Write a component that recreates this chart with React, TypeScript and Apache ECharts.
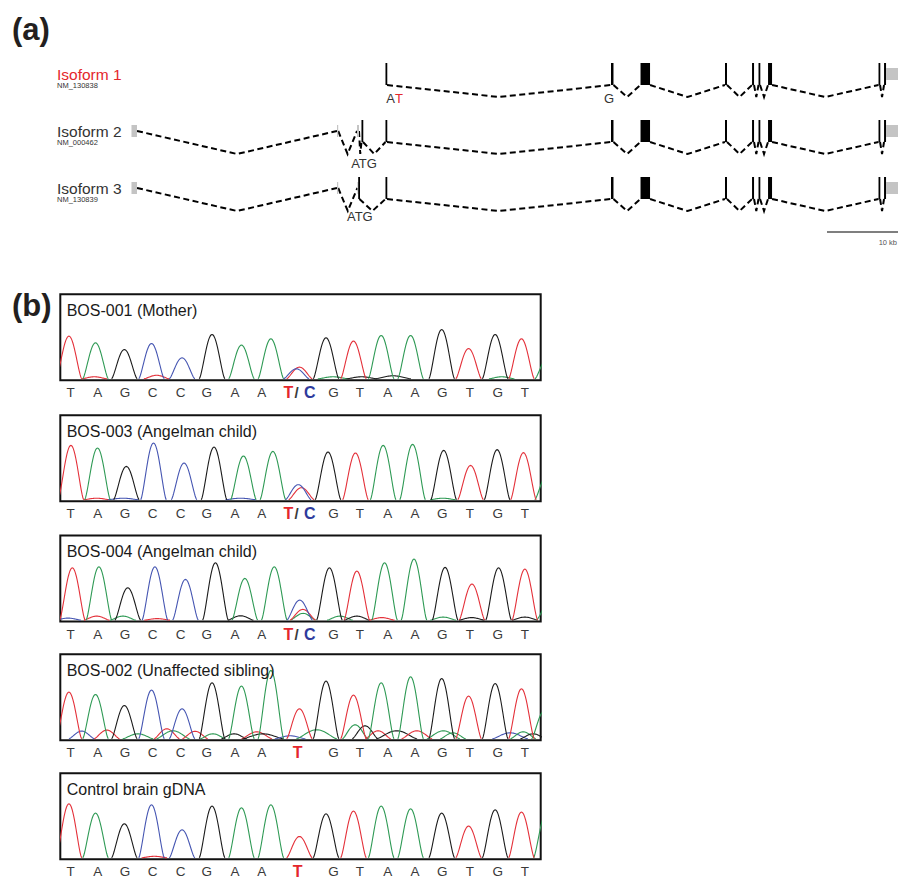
import { useEffect, useRef } from 'react';
import * as echarts from 'echarts';

// ---------- (a) gene structure, positions in kb from the 5' end ----------
const ISOFORMS = ['Isoform 1', 'Isoform 2', 'Isoform 3'];
const REFSEQ = ['NM_130838', 'NM_000462', 'NM_130839'];
// [start kb, end kb, kind] kind: 1 coding, 0 UTR
const SHARED_EXONS = [
  [31.81, 32.0, 1], [60.0, 60.31, 1], [63.69, 64.88, 1], [74.25, 74.5, 1],
  [77.63, 77.88, 1], [78.44, 78.63, 1], [79.63, 80.13, 1], [93.44, 93.63, 1],
  [94.13, 94.38, 1], [94.38, 96.9, 0],
];
const ISO1_EXONS = [...SHARED_EXONS];
const ISO2_EXONS = [[0.06, 0.75, 0], [25.75, 25.9, 0], [28.25, 28.5, 0], [28.81, 29.0, 1], ...SHARED_EXONS];
const ISO3_EXONS = [[0.06, 0.75, 0], [25.75, 25.9, 0], [28.3, 28.4, 0], [28.4, 28.55, 1], ...SHARED_EXONS];
// [row, kb, text, red]
const START_CODON = [[0, 32.45, 'A', 0], [0, 33.5, 'T', 1], [0, 59.75, 'G', 0], [1, 29.13, 'ATG', 0], [2, 28.6, 'ATG', 0]];

// ---------- (b) chromatograms ----------
const SAMPLES = ['BOS-001 (Mother)', 'BOS-003 (Angelman child)', 'BOS-004 (Angelman child)', 'BOS-002 (Unaffected sibling)', 'Control brain gDNA'];
const HETEROZYGOUS = [true, true, true, false, false];
const BASES = ['T', 'A', 'G', 'C', 'C', 'G', 'A', 'A', 'T', 'G', 'T', 'A', 'A', 'G', 'T', 'G', 'T'];
const PEAK_POS = [-0.02, 0.92, 1.94, 2.9, 3.98, 5.04, 6.08, 7.12, 8.13, 9.07, 10.04, 11.02, 12.06, 13.16, 14.11, 15.05, 15.98];
const LABEL_POS = [0.04, 1.0, 1.96, 2.94, 3.93, 4.85, 5.85, 6.8, 8.07, 9.33, 10.27, 11.25, 12.22, 13.18, 14.16, 15.14, 16.1];
const HET_LABEL_POS = [7.74, 8.03, 8.5]; // T / C
const PANEL_SHIFT = [0, 0.07, 0.12, 0, 0];

const MOTHER_H = [42.7, 36, 29.3, 35.3, 21, 44.3, 33.7, 40, 11.7, 41, 37.7, 43.3, 43.3, 49.3, 30.3, 44.3, 40];
const BOS003_H = [54.3, 51.7, 33.3, 56.7, 36.7, 52.7, 43.7, 48.3, 12, 47.7, 46.7, 54.3, 55.3, 49.3, 34.3, 50, 47];
const BOS004_H = [52.3, 53.3, 32.3, 53.3, 40.7, 57.3, 41.7, 53.3, 10.7, 52.3, 49, 57.3, 61, 52.7, 36, 52.3, 51];
const BOS002_H = [46.7, 44.3, 33.3, 48.7, 30, 56, 52.7, 68.3, 30, 57.7, 43.7, 56, 62, 60.3, 42.7, 55.3, 50];
const CONTROL_H = [54, 44.7, 34, 53, 28, 51.7, 50, 53, 21.3, 44, 46.7, 51.7, 49, 44.7, 31.7, 48, 45.7];
const HEIGHTS = [MOTHER_H, BOS003_H, BOS004_H, BOS002_H, CONTROL_H];
const C_ALLELE_H = [10, 15, 20, 0, 0];

// minor peaks: [pos, height, base, width factor]
const MINOR_1 = [[0.88, 2, 'T', 1], [3.08, 3.5, 'T', 1], [9.32, 2, 'A', 1.2], [10.33, 2, 'G', 1.2], [11.44, 3, 'G', 1.4], [15.28, 2, 'A', 1], [16.91, 21, 'A', 1]];
const MINOR_2 = [[0.96, 1.5, 'T', 1], [1.9, 1.5, 'C', 1.2], [6.05, 1.5, 'C', 1.2], [13.2, 1.5, 'A', 1], [16.9, 25, 'A', 1]];
const MINOR_3 = [[-0.05, 2, 'C', 1], [0.96, 4, 'T', 1], [1.89, 4, 'A', 1], [3.1, 1.5, 'T', 1], [6.05, 4.3, 'G', 1], [8.26, 6.7, 'A', 1], [9.56, 4, 'A', 1], [10.16, 4, 'G', 1], [11.04, 2.5, 'T', 1], [13.21, 3, 'A', 1], [14.22, 2.5, 'G', 1], [16.1, 3, 'G', 1], [16.96, 17, 'A', 1]];
const MINOR_4 = [[0.43, 7.7, 'C', 1], [1.32, 8.7, 'T', 1], [2.42, 5, 'A', 1.2], [3.44, 10, 'T', 1], [3.66, 8, 'A', 1.3], [4.44, 7.5, 'T', 1], [5.07, 5, 'A', 1], [5.82, 5, 'G', 1], [6.62, 7, 'T', 1.2], [6.84, 5, 'G', 1.6], [7.8, 3, 'C', 1.2], [8.74, 9, 'A', 1.6], [10.1, 14, 'A', 1], [10.45, 13, 'G', 1], [10.91, 8, 'T', 1], [11.57, 8, 'G', 1.6], [12.28, 8, 'T', 1.2], [13.22, 8, 'A', 1.3], [13.56, 6, 'A', 1], [15.58, 6, 'C', 1.4], [16.04, 7, 'A', 1], [16.39, 5, 'G', 1], [16.79, 28, 'A', 1]];
const MINOR_5 = [[3.0, 1.5, 'T', 1], [16.86, 45, 'A', 1]];
const MINORS = [MINOR_1, MINOR_2, MINOR_3, MINOR_4, MINOR_5];

// ---------- styles / layout ----------
const FONT = '"Liberation Sans", Arial, Helvetica, sans-serif';
const TRACE_COLOR: Record<string, string> = { A: '#2f9a55', C: '#4656b2', G: '#1c1c1c', T: '#e4313a' };
const CH = ['A', 'C', 'G', 'T'];
const PANEL_TOP = [294.3, 415.2, 535.6, 654.3, 773.3];
const PANEL_H = 86;
const PANEL_LEFT = 60.3;
const PANEL_W = 480.4;

function txt(text: string, x: number, y: number, size: number, fill: string, bold = false, align = 'left') {
  return {
    type: 'text', x, y, z: 10, silent: true,
    style: {
      text, fill, font: `${bold ? 'bold ' : ''}${size}px ${FONT}`,
      align, verticalAlign: 'middle', textAlign: align, textVerticalAlign: 'middle',
    },
  };
}

function buildOption() {
  const exonLists = [ISO1_EXONS, ISO2_EXONS, ISO3_EXONS];
  const exonData: number[][] = [];
  const intronData: number[][] = [];
  exonLists.forEach((list, row) => {
    list.forEach((e, i) => {
      exonData.push([row, e[0] as number, e[1] as number, e[2] as number]);
      if (i > 0) {
        const prev = list[i - 1];
        if ((e[0] as number) - (prev[1] as number) > 0.01) {
          intronData.push([row, prev[1] as number, e[0] as number, prev[2] as number, e[2] as number]);
        }
      }
    });
  });

  const grids: any[] = [{ left: 0, top: 45.5, width: 898, height: 171, show: false, outerBoundsMode: 'none' }];
  const xAxes: any[] = [{ type: 'value', gridIndex: 0, min: -16.375, max: 95.875, show: false }];
  const yAxes: any[] = [{ type: 'category', gridIndex: 0, data: ISOFORMS, inverse: true, show: false }];
  const series: any[] = [];

  series.push({
    type: 'custom', xAxisIndex: 0, yAxisIndex: 0, data: intronData, z: 2,
    renderItem: (params: any, api: any) => {
      const row = api.value(0);
      const a = api.coord([api.value(1), row]);
      const b = api.coord([api.value(2), row]);
      const ya = a[1] + (api.value(3) ? 11 : 0);
      const yb = b[1] + (api.value(4) ? 11 : 0);
      return {
        type: 'polyline',
        shape: { points: [[a[0], ya], [(a[0] + b[0]) / 2, a[1] + 23], [b[0], yb]] },
        style: { stroke: '#000', lineWidth: 2, lineDash: [6, 3.5], fill: 'none' },
      };
    },
  });
  series.push({
    type: 'custom', xAxisIndex: 0, yAxisIndex: 0, data: exonData, z: 3,
    renderItem: (params: any, api: any) => {
      const row = api.value(0);
      const k = api.value(3);
      const p1 = api.coord([api.value(1), row]);
      const p2 = api.coord([api.value(2), row]);
      const half = k ? 11 : 6;
      const w = Math.max(p2[0] - p1[0], k ? 1.8 : 1.2);
      return {
        type: 'rect',
        shape: { x: p1[0], y: p1[1] - half, width: w, height: half * 2 },
        style: { fill: k ? '#000' : '#c4c4c4' },
      };
    },
  });
  const codonDy = [24, 32, 28.5];
  series.push({
    type: 'custom', xAxisIndex: 0, yAxisIndex: 0, data: START_CODON.map((s) => [s[0], s[1]]), z: 4,
    renderItem: (params: any, api: any) => {
      const s = START_CODON[params.dataIndex];
      const p = api.coord([api.value(1), api.value(0)]);
      return {
        type: 'text', x: p[0], y: p[1] + codonDy[s[0] as number],
        style: {
          text: s[2], fill: s[3] ? '#e4262c' : '#333', font: `13px ${FONT}`,
          align: 'center', verticalAlign: 'middle', textAlign: 'center', textVerticalAlign: 'middle',
        },
      };
    },
  });

  const graphics: any[] = [
    txt('(a)', 12, 29, 31, '#231f20', true),
    txt('(b)', 12, 305, 31, '#231f20', true),
    { type: 'line', z: 10, shape: { x1: 827, y1: 232, x2: 898, y2: 232 }, style: { stroke: '#555', lineWidth: 1.5 } },
    txt('10 kb', 897, 242, 7.5, '#555', false, 'right'),
  ];
  ISOFORMS.forEach((name, i) => {
    graphics.push(txt(name, 57, 74 + 57 * i, 15.5, i === 0 ? '#e4262c' : '#333'));
    graphics.push(txt(REFSEQ[i], 57, 85.5 + 57 * i, 7.5, '#333'));
  });

  SAMPLES.forEach((sample, p) => {
    const gi = p + 1;
    grids.push({
      left: PANEL_LEFT, top: PANEL_TOP[p], width: PANEL_W, height: PANEL_H,
      show: true, borderColor: '#111', borderWidth: 2, backgroundColor: 'transparent', outerBoundsMode: 'none',
    });
    xAxes.push({ type: 'value', gridIndex: gi, min: -0.325, max: 16.66, show: false });
    yAxes.push({ type: 'value', gridIndex: gi, min: -1.5, max: PANEL_H - 1.5, show: false });

    const shift = PANEL_SHIFT[p];
    const peaks: number[][] = [];
    MINORS[p].forEach((m) => peaks.push([m[0] as number, m[1] as number, CH.indexOf(m[2] as string), m[3] as number]));
    HEIGHTS[p].forEach((h, i) => peaks.push([PEAK_POS[i] + shift, h, CH.indexOf(BASES[i]), 1]));
    if (C_ALLELE_H[p] > 0) peaks.push([PEAK_POS[8] + shift - 0.11, C_ALLELE_H[p], CH.indexOf('C'), 1]);

    series.push({
      type: 'custom', xAxisIndex: gi, yAxisIndex: gi, data: peaks, clip: true, z: 3,
      renderItem: (params: any, api: any) => {
        const pos = api.value(0);
        const h = api.value(1);
        const ch = CH[api.value(2)];
        const W = 0.45 * api.value(3);
        const pts: number[][] = [];
        const n = 32;
        for (let k = 0; k <= n; k++) {
          const dx = -W + (2 * W * k) / n;
          const c = Math.max(0, Math.cos((Math.PI * dx) / (2 * W)));
          pts.push(api.coord([pos + dx, h * Math.pow(c, 1.4)]));
        }
        return {
          type: 'polyline', shape: { points: pts },
          style: { stroke: TRACE_COLOR[ch], lineWidth: 1.1, fill: 'none' },
        };
      },
    });

    const labels: { pos: number; text: string; kind: number }[] = [];
    BASES.forEach((b, i) => {
      if (i === 8) {
        if (HETEROZYGOUS[p]) {
          labels.push({ pos: HET_LABEL_POS[0], text: 'T', kind: 1 });
          labels.push({ pos: HET_LABEL_POS[1], text: '/', kind: 3 });
          labels.push({ pos: HET_LABEL_POS[2], text: 'C', kind: 2 });
        } else {
          labels.push({ pos: LABEL_POS[i], text: 'T', kind: 1 });
        }
      } else {
        labels.push({ pos: LABEL_POS[i], text: b, kind: 0 });
      }
    });
    const labelFill = ['#3a3a3a', '#e4262c', '#2e3a9c', '#3a3a3a'];
    const labelFont = [`13.5px ${FONT}`, `bold 16px ${FONT}`, `bold 16px ${FONT}`, `bold 15px ${FONT}`];
    series.push({
      type: 'custom', xAxisIndex: gi, yAxisIndex: gi, data: labels.map((l) => [l.pos, 0]), z: 4,
      renderItem: (params: any, api: any) => {
        const l = labels[params.dataIndex];
        const c = api.coord([api.value(0), 0]);
        return {
          type: 'text', x: c[0], y: c[1] + 14,
          style: {
            text: l.text, fill: labelFill[l.kind], font: labelFont[l.kind],
            align: 'center', verticalAlign: 'middle', textAlign: 'center', textVerticalAlign: 'middle',
          },
        };
      },
    });

    graphics.push(txt(sample, 66.7, PANEL_TOP[p] + 16, 16, '#1a1a1a'));
  });

  return {
    animation: false,
    grid: grids,
    xAxis: xAxes,
    yAxis: yAxes,
    series,
    graphic: { elements: graphics },
  };
}

export default function App() {
  const ref = useRef<HTMLDivElement>(null);
  useEffect(() => {
    if (!ref.current) return;
    const chart = echarts.init(ref.current, undefined, { renderer: 'svg' });
    chart.setOption(buildOption() as any);
    return () => chart.dispose();
  }, []);
  return <div ref={ref} style={{ position: 'fixed', left: 0, top: 0, width: 898, height: 879, background: '#fff' }} />;
}
